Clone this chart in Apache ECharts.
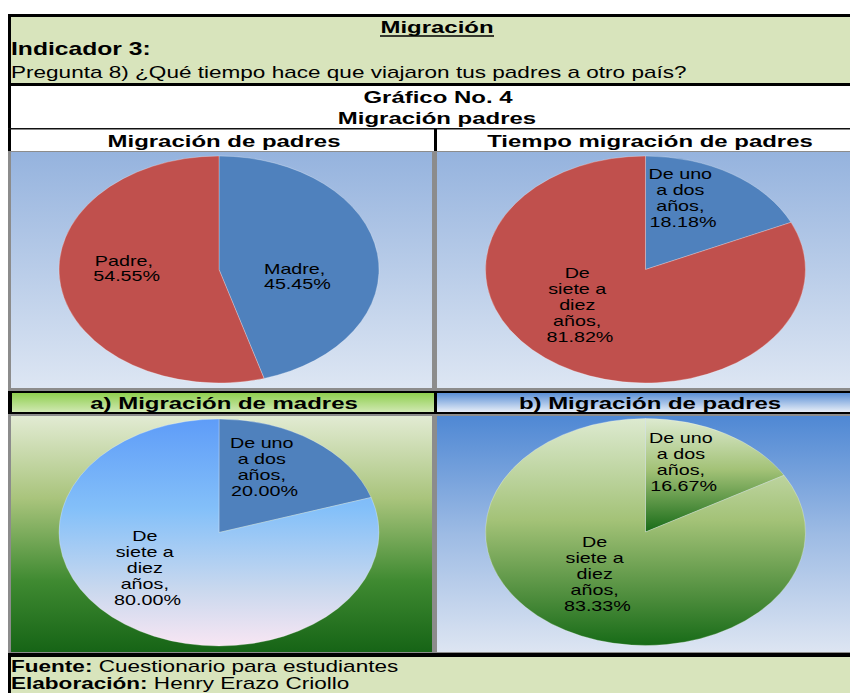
<!DOCTYPE html>
<html>
<head>
<meta charset="utf-8">
<title>Migración padres</title>
<script src="https://cdn.jsdelivr.net/npm/echarts@6.0.0/dist/echarts.min.js"></script>
<style>
  html, body { margin: 0; padding: 0; background: #fff; overflow: hidden; }
  /* the sheet is laid out narrow and stretched sideways, like the source picture */
  #chart { position: absolute; left: 0; top: 0; width: 603px; height: 693px; transform-origin: 0 0; transform: scaleX(1.40962); }
</style>
</head>
<body>
<div id="chart"></div>
<script>
const STRETCH = 850 / 603
const ux = x => x / STRETCH   // page x -> chart x

// data (counts of students)
const padresCats = ['Madre', 'Padre']
const padresVals = [5, 6]
const tiempoCats = ['De uno a dos años', 'De siete a diez años']
const tiempoVals = [2, 9]
const madresTiempoVals = [1, 4]
const padresTiempoVals = [1, 5]

const FONT = 'Liberation Sans, Arial, sans-serif'

function grad(stops) {
  return new echarts.graphic.LinearGradient(0, 0, 0, 1,
    stops.map(s => ({ offset: s[0], color: s[1] })))
}

const blueBg = () => grad([[0, '#95B3DE'], [1, '#DDE6F3']])
const greenBg = () => grad([[0, '#E2EBD3'], [0.35, '#A9C47C'], [0.7, '#3F8A31'], [1, '#166416']])
const blueBg4 = () => grad([[0, '#4F88D4'], [0.5, '#9DBBE4'], [1, '#DDE5F2']])
const greenHead = () => grad([[0, '#8FCF4F'], [1, '#D0E8B2']])
const blueHead = () => grad([[0, '#5A8FD6'], [1, '#E8EEF7']])
const lightBlueSlice = () => grad([[0, '#5E9CF8'], [0.4, '#84C0F9'], [0.75, '#C9D8EE'], [1, '#F8E6F3']])
const greenSlice = () => grad([[0, '#DDEAD0'], [0.45, '#A3C277'], [1, '#176B17']])

function rect(x1, y1, x2, y2, fill) {
  return {
    type: 'rect', silent: true,
    shape: { x: ux(x1), y: y1, width: ux(x2) - ux(x1), height: y2 - y1 },
    style: { fill: fill }
  }
}

function text(str, x, y, size, bold, align) {
  return {
    type: 'text', silent: true, x: ux(x), y: y,
    style: {
      text: str, fill: '#000', fontFamily: FONT, fontSize: size,
      fontWeight: bold ? 'bold' : 'normal',
      align: align || 'center', verticalAlign: 'middle'
    }
  }
}

function footer(label, rest, y) {
  return {
    type: 'text', silent: true, x: ux(11), y: y,
    style: {
      text: '{b|' + label + '} ' + rest, fill: '#000', fontFamily: FONT, fontSize: 16,
      align: 'left', verticalAlign: 'middle',
      rich: { b: { fontWeight: 'bold', fontFamily: FONT, fontSize: 16, fill: '#000' } }
    }
  }
}

const sheet = [
  rect(8, 14, 850, 17, '#000'),
  rect(8, 14, 11, 152, '#000'),
  rect(11, 17, 850, 83, '#D8E4BC'),
  rect(8, 83, 850, 86, '#000'),
  rect(8, 128, 850, 129.5, '#111'),
  rect(434, 129, 437, 151, '#000'),
  rect(8, 151, 850, 392, '#8C8C8C'),
  rect(11, 152, 432, 388, blueBg()),
  rect(437, 152, 850, 388, blueBg()),
  rect(8, 391, 850, 414, '#000'),
  rect(12, 393, 434, 412, greenHead()),
  rect(437, 393, 850, 412, blueHead()),
  rect(8, 414, 850, 654, '#8C8C8C'),
  rect(11, 416, 432, 652, greenBg()),
  rect(437, 416, 850, 652, blueBg4()),
  rect(8, 653, 850, 657, '#000'),
  rect(8, 657, 11, 693, '#000'),
  rect(11, 657, 850, 693, '#D8E4BC'),

  text('Migración', 437, 27, 17, true),
  { type: 'line', silent: true, shape: { x1: ux(380), y1: 36, x2: ux(494), y2: 36 }, style: { stroke: '#000', lineWidth: 1.3 } },
  text('Indicador 3:', 11, 49, 17.5, true, 'left'),
  text('Pregunta 8) ¿Qué tiempo hace que viajaron tus padres a otro país?', 11, 72, 16, false, 'left'),
  text('Gráfico No. 4', 438, 97, 17, true),
  text('Migración padres', 437, 118, 17, true),
  text('Migración de padres', 224, 141, 17, true),
  text('Tiempo migración de padres', 650, 141, 17, true),
  text('a) Migración de madres', 224, 403, 17, true),
  text('b) Migración de padres', 650, 403, 17, true),
  footer('Fuente:', 'Cuestionario para estudiantes', 666),
  footer('Elaboración:', 'Henry Erazo Criollo', 683)
]

// cx is in page pixels; nudges move the inside labels to where the sheet puts them
function pieSeries(cats, vals, colors, cx, cy, nudges) {
  return {
    type: 'pie',
    center: [ux(cx), cy],
    radius: 113.5,
    startAngle: 90,
    clockwise: true,
    silent: true,
    animation: false,
    avoidLabelOverlap: false,
    data: vals.map((v, i) => ({ name: cats[i], value: v, itemStyle: { color: colors[i] } })),
    itemStyle: { borderColor: 'rgba(255,255,255,0.45)', borderWidth: 0.5 },
    label: {
      show: true,
      position: 'inside',
      color: '#000',
      fontFamily: FONT,
      fontSize: 14,
      lineHeight: 16,
      width: 50,
      overflow: 'break',
      formatter: p => p.name + ', ' + p.percent.toFixed(2) + '%'
    },
    labelLine: { show: false },
    labelLayout: p => ({ dx: nudges[p.dataIndex][0] / STRETCH, dy: nudges[p.dataIndex][1] }),
    emphasis: { disabled: true }
  }
}

const chart = echarts.init(document.getElementById('chart'), null, { renderer: 'svg' })
chart.setOption({
  animation: false,
  backgroundColor: '#fff',
  graphic: { elements: [{ type: 'group', z: -10, children: sheet }] },
  series: [
    pieSeries(padresCats, padresVals, ['#4F81BD', '#C0504D'], 219, 269.5, [[-5, 16], [-9, -9]]),
    pieSeries(tiempoCats, tiempoVals, ['#4F81BD', '#C0504D'], 645.5, 269.5, [[-8, -21], [-20, -14]]),
    pieSeries(tiempoCats, madresTiempoVals, ['#4F81BD', lightBlueSlice()], 219, 532.5, [[-4, -17], [-22, -12]]),
    pieSeries(tiempoCats, padresTiempoVals, [greenSlice(), greenSlice()], 645.5, 532, [[-4, -18], [-6, -9]])
  ]
})
</script>
</body>
</html>
